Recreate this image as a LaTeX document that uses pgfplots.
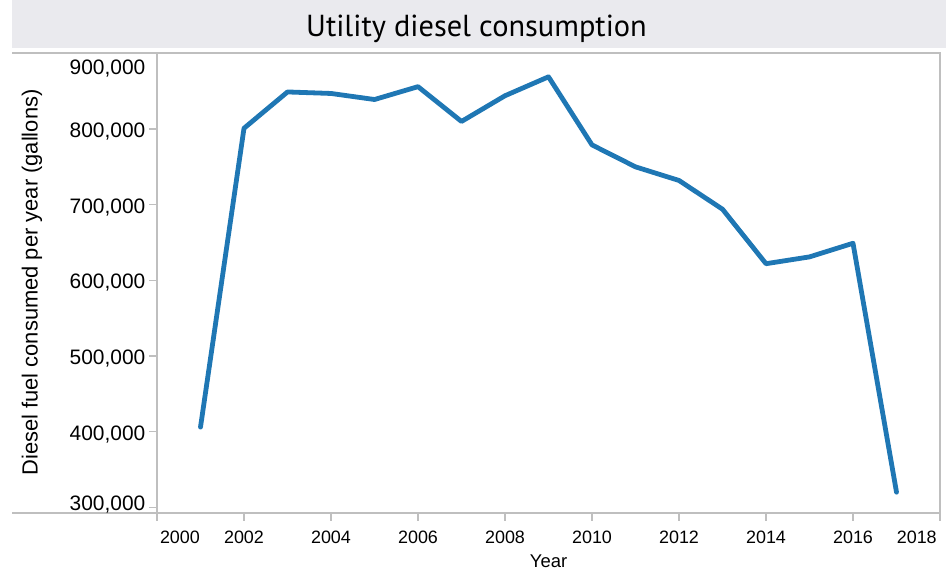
\documentclass[border=0pt]{standalone}
\usepackage{pgfplots}
\pgfplotsset{compat=1.18}
\usepackage{fontspec}
\setmainfont{Liberation Sans}
\newfontfamily\titlefont{PT Sans}
\definecolor{lineblue}{RGB}{31,119,180}
\definecolor{framegray}{RGB}{191,191,191}
\definecolor{bandgray}{RGB}{234,234,238}
\begin{document}
\begin{tikzpicture}[x=1bp,y=1bp]
\fill[bandgray] (12,522.3) rectangle (946,570);
\node[anchor=base, font=\titlefont\fontsize{30.5}{30.5}\selectfont, inner sep=0pt] at (476.5,533.3) {Utility diesel consumption};
\draw[framegray, line width=1.3bp] (12,517) -- (940,517) -- (940,57) -- (12,57);
\begin{axis}[at={(157bp,57bp)}, anchor=south west, scale only axis,
  width=783bp, height=460bp,
  xmin=2000, xmax=2018, ymin=292500, ymax=900500,
  scaled y ticks=false, scaled x ticks=false,
  axis lines=left, axis line style={-, framegray, line width=1.3bp},
  tick align=outside, major tick length=8bp,
  tick style={framegray, line width=1.3bp},
  xtick={2000,2002,2004,2006,2008,2010,2012,2014,2016,2018},
  xticklabels={{\makebox[0pt][l]{\hspace{3bp}2000}},2002,2004,2006,2008,2010,2012,2014,2016,{\makebox[0pt][r]{2018\hspace{3.3bp}}}},
  ytick={300000,400000,500000,600000,700000,800000,900000},
  yticklabels={{\raisebox{5.9bp}{300,000}},{400,000},{500,000},{600,000},{700,000},{800,000},{\raisebox{-12.4bp}{900,000}}},
  xticklabel style={anchor=base, font=\fontsize{18}{18}\selectfont, inner sep=0pt, yshift=-22.3bp},
  yticklabel style={anchor=base east, font=\fontsize{21}{21}\selectfont, inner sep=0pt, xshift=-3.5bp, yshift=-8.6bp},
  xlabel={Year},
  xlabel style={at={(axis description cs:0.5,0)}, anchor=base, yshift=-54.3bp, font=\fontsize{18.5}{18.5}\selectfont, inner sep=0pt},
  ylabel={Diesel fuel consumed per year (gallons)},
  ylabel style={at={(axis description cs:-0.1524,0.501)}, anchor=base, font=\fontsize{22}{22}\selectfont, inner sep=0pt},
  clip=false,
]
\addplot[lineblue, line width=4.8bp, line join=round, line cap=round] coordinates {
(2001,406000) (2002,801000) (2003,849000) (2004,847000) (2005,839000)
(2006,856000) (2007,810000) (2008,844000) (2009,869000) (2010,779000)
(2011,750000) (2012,732000) (2013,694000) (2014,622000) (2015,631000)
(2016,649000) (2017,320000)
};
\end{axis}
\pgfresetboundingbox
\useasboundingbox (0,0) rectangle (946,570);
\end{tikzpicture}
\end{document}
